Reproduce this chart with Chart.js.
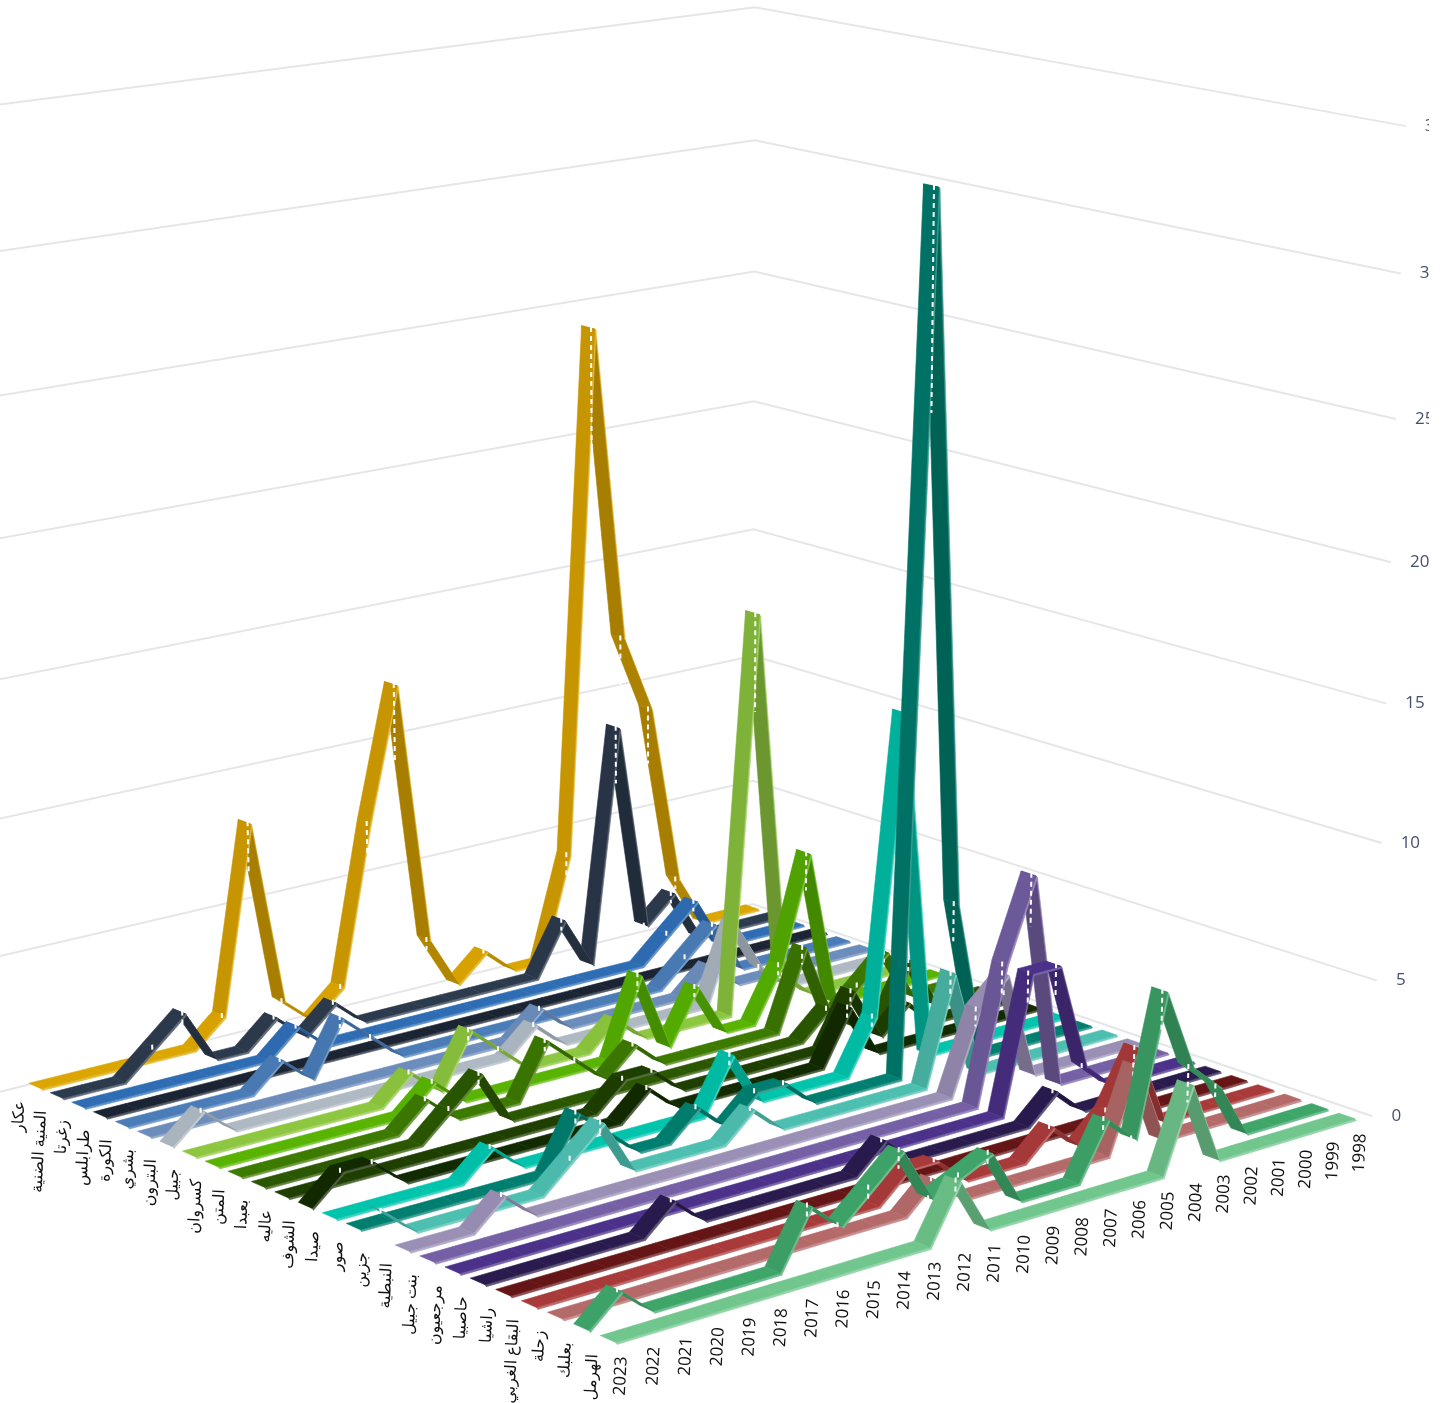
<!DOCTYPE html>
<html>
<head>
<meta charset="utf-8">
<title>chart</title>
<script src="https://cdn.jsdelivr.net/npm/chart.js@4/dist/chart.umd.js"></script>
<style>
  body { margin: 0; background: #fff; }
  canvas { display: block; }
</style>
</head>
<body>
<canvas id="chart" width="1429" height="1403"></canvas>
<script>
// years run from the near end of each ribbon to the far end
const years = [2023,2022,2021,2020,2019,2018,2017,2016,2015,2014,2013,2012,2011,2010,2009,2008,2007,2006,2005,2004,2003,2002,2001,2000,1999,1998];
const categories = ['عكار','المنية الضنية','زغرتا','طرابلس','الكورة','بشري','البترون','جبيل','كسروان','المتن','بعبدا','عاليه','الشوف','صيدا','صور','جزين','النبطية','بنت جبيل','مرجعيون','حاصبيا','راشيا','البقاع الغربي','زحلة','بعلبك','الهرمل'];
const valueTicks = [0,5,10,15,20,25,30,35];

const akkar    = [0,0,0,0,0,0,1,8,1,0,1,7,12,2,0,1,0,0,4,24,12,9,2,0,0,0];
const minieh   = [0,0,0,1,2,0,0,1,0,1,0,0,0,0,0,0,0,2,0,9,1,2,0,0,0,0];
const zgharta  = [0,0,0,0,0,0,0,1,0,0,0,0,0,0,0,0,0,0,0,0,1,2,0,0,0,0];
const tripoli  = [0,0,0,0,0,0,0,0,0,0,0,0,0,0,0,0,0,0,0,0,0,0,0,0,0,0];
const koura    = [0,0,0,0,0,1,0,2,1,0,0,0,0,0,0,0,0,0,0,1,2,0,0,0,0,0];
const bsharri  = [0,0,0,0,0,0,0,0,0,0,0,0,0,1,0,0,0,0,0,1,0,0,0,0,0,0];
const batroun  = [0,1,0,0,0,0,0,0,0,0,0,0,1,0,0,0,0,0,0,3,1,0,0,0,0,0];
const jbeil    = [0,0,0,0,0,0,0,1,0,2,1,0,0,0,1,0,0,0,0,15,1,0,0,0,0,0];
const kesrouan = [0,0,0,0,0,0,0,1,0,0,0,0,0,0,3,0,2,0,0,2,6,0,0,0,0,0];
const metn     = [0,0,0,0,0,0,1,0,0,0,2,1,0,1,0,0,0,0,0,3,0,1,2,0,0,0];
const baabda   = [0,0,0,0,0,0,1,2,0,0,0,0,0,0,0,0,0,0,0,1,0,0,2,0,0,0];
const aley     = [0,0,0,0,0,0,0,0,0,0,0,1,1,0,0,0,0,0,0,2,0,1,0,0,0,0];
const chouf    = [0,1,1,0,0,0,0,0,0,0,0,1,0,0,0,0,0,0,2,0,0,0,0,0,0,0];
const saida    = [0,0,0,0,0,1,0,0,0,0,0,0,0,2,0,0,0,0,2,13,0,0,0,0,0,0];
const tyre     = [0,0,0,0,0,0,0,2,1,0,0,1,0,1,1,0,0,0,0,32,6,0,0,0,0,0];
const jezzine  = [1,0,0,0,0,0,1,2,0,0,0,0,1,0,0,0,0,0,0,4,0,0,0,0,0,0];
const nabatieh = [0,0,0,1,0,0,0,0,0,0,0,0,0,0,0,0,0,0,0,3,4,0,0,0,0,0];
const bintJbeil= [0,0,0,0,0,0,0,0,0,0,0,0,0,0,0,0,0,0,0,5,8,0,0,0,0,0];
const marjayoun= [0,0,0,0,0,0,0,0,0,0,0,0,0,0,0,0,0,0,0,5,5,1,0,0,0,0];
const hasbaya  = [0,0,0,0,0,0,1,0,0,0,0,0,0,1,0,0,0,0,0,1,0,0,0,0,0,0];
const rashaya  = [0,0,0,0,0,0,0,0,0,0,0,0,0,0,0,0,0,0,0,0,0,0,0,0,0,0];
const westBekaa= [0,0,0,0,0,0,0,0,0,0,0,0,1,1,0,0,0,1,0,1,3,0,0,0,0,0];
const zahle    = [0,0,0,0,0,0,0,0,0,0,0,0,1,0,0,0,0,0,0,3,0,0,0,0,0,0];
const baalbek  = [0,1,0,0,0,0,0,2,1,2,3,1,1.5,2,0,0,0,2,1,6,3,2,0,0,0,0];
const hermel   = [0,0,0,0,0,0,0,0,0,0,0,2,0,0,0,0,0,0,0,3,0,0,0,0,0,0];

const seriesValues = [akkar,minieh,zgharta,tripoli,koura,bsharri,batroun,jbeil,kesrouan,metn,baabda,aley,chouf,saida,tyre,jezzine,nabatieh,bintJbeil,marjayoun,hasbaya,rashaya,westBekaa,zahle,baalbek,hermel];
const seriesColors = ['#dca600','#2c3a4d','#2e6db4','#1b2432','#4a7cb8','#6c8dbc','#aeb9c4','#8dc63f','#58b400','#3d7a00','#2b5700','#1e3f00','#122a00','#00c4ac','#007f70','#4dbfb0','#9a8fb5','#7560a5','#4b3189','#291b4e','#651515','#a93a3a','#b56a6a','#3fa66a','#70c68c'];

const W = 1429, H = 1403;
const lastYear = years.length - 1, lastCat = categories.length - 1;

// perspective camera, fitted on the four corners of the ribbon floor
const corner0 = [35,1086], corner1 = [752,907], corner2 = [1347,1116], corner3 = [608,1339];
const dx1 = corner1[0]-corner2[0], dx2 = corner3[0]-corner2[0], sx = corner0[0]-corner1[0]+corner2[0]-corner3[0];
const dy1 = corner1[1]-corner2[1], dy2 = corner3[1]-corner2[1], sy = corner0[1]-corner1[1]+corner2[1]-corner3[1];
const den = dx1*dy2-dx2*dy1;
const g = (sx*dy2-dx2*sy)/den, h = (dx1*sy-sx*dy1)/den;
const a = corner1[0]-corner0[0]+g*corner1[0], b = corner3[0]-corner0[0]+h*corner3[0];
const d = corner1[1]-corner0[1]+g*corner1[1], e = corner3[1]-corner0[1]+h*corner3[1];

function floorPoint(i, k) {
  const s = i/lastYear, t = k/lastCat;
  return {nx: a*s+b*t+corner0[0], ny: d*s+e*t+corner0[1], w: g*s+h*t+1};
}

// walls: back corner and right end of the top gridline
const wallFar = lastYear+0.2, wallLeft = -0.2, wallRight = lastCat+0.8, wallNear = -1;
const topZ = 35;
const back = floorPoint(wallFar, wallLeft), right = floorPoint(wallFar, wallRight);
const backTop = [755,10], rightTop = [1408,122];
const kxb = (backTop[0]*back.w-back.nx)/topZ, kxr = (rightTop[0]*right.w-right.nx)/topZ;
const kyb = (backTop[1]*back.w-back.ny)/topZ, kyr = (rightTop[1]*right.w-right.ny)/topZ;
const cw = (kxb-kxr)/(rightTop[0]-backTop[0]);
const cx = kxb+backTop[0]*cw;
const cy = 0.7*(kyb+backTop[1]*cw)+0.3*(kyr+rightTop[1]*cw);

function project(i, k, z) {
  const p = floorPoint(i, k), w = p.w+cw*z;
  return {x: (p.nx+cx*z)/w, y: (p.ny+cy*z)/w};
}

const halfWidth = 0.29, edgeSide = 0.05, edgeDepth = 0.05;

function shade(hex, f) {
  const n = parseInt(hex.slice(1), 16);
  const mix = c => f <= 1 ? Math.round(c*f) : Math.round(c+(255-c)*(f-1));
  return 'rgb('+mix(n>>16)+','+mix((n>>8)&255)+','+mix(n&255)+')';
}

// one ribbon: five projected points per year, painted far to near as quads
class RibbonController extends Chart.LineController {
  draw() {
    const ctx = this.chart.ctx, pts = this.getMeta().data, ds = this.getDataset();
    const vals = ds.heights, col = ds.baseColor;
    const quad = (p, q, r, s, c) => {
      ctx.fillStyle = c; ctx.strokeStyle = c; ctx.lineWidth = 0.6;
      ctx.beginPath(); ctx.moveTo(p.x,p.y); ctx.lineTo(q.x,q.y); ctx.lineTo(r.x,r.y); ctx.lineTo(s.x,s.y);
      ctx.closePath(); ctx.fill(); ctx.stroke();
    };
    ctx.save();
    for (let i = vals.length-2; i >= 0; i--) {
      const at = i*5, nx = at+5, dz = vals[i+1]-vals[i];
      let f = 1;
      if (dz > 0) f = 1-0.1*Math.min(1, dz/4);
      if (dz < 0) f = 0.86-0.1*Math.min(1, -dz/4);
      quad(pts[at+1], pts[nx+1], pts[nx+2], pts[at+2], shade(col, 1.25));
      quad(pts[at], pts[nx], pts[nx+1], pts[at+1], shade(col, f));
    }
    ctx.strokeStyle = '#fff'; ctx.lineWidth = 2; ctx.setLineDash([5,4]);
    vals.forEach((v, i) => {
      if (v <= 0) return;
      const p = pts[i*5+3], q = pts[i*5+4];
      ctx.beginPath(); ctx.moveTo(p.x,p.y); ctx.lineTo(q.x,q.y); ctx.stroke();
    });
    ctx.restore();
  }
}
RibbonController.id = 'ribbon';
RibbonController.defaults = Chart.LineController.defaults;
Chart.register(RibbonController);

const ribbonSets = seriesValues.map((vals, k) => {
  const data = [];
  vals.forEach((v, i) => {
    data.push(project(i, k-halfWidth, v));
    data.push(project(i, k+halfWidth, v));
    data.push(project(i, k+halfWidth+edgeSide, v-edgeDepth));
    data.push(project(i+0.1, k, v));
    data.push(project(i+0.1, k, v*0.75));
  });
  return {type: 'ribbon', label: categories[k], data, heights: vals, baseColor: seriesColors[k], order: 100-k, pointRadius: 0};
});

const gridEnd = z => project(wallFar+0.3, wallRight-0.36, z);

const gridSets = valueTicks.map(z => ({
  type: 'scatter', label: 'grid '+z, showLine: true, order: 200, pointRadius: 0,
  borderColor: '#e4e6ea', borderWidth: 2,
  data: [project(wallNear, wallLeft, z), project(wallFar, wallLeft, z), gridEnd(z)]
}));

const axisText = {
  id: 'axisText',
  afterDatasetsDraw(chart) {
    const {ctx, scales} = chart;
    const put = (p, dx, dy) => [scales.x.getPixelForValue(p.x)+dx, scales.y.getPixelForValue(p.y)+dy];
    const vertical = (text, x, y, align) => {
      ctx.save(); ctx.translate(x, y); ctx.rotate(-87*Math.PI/180);
      ctx.textAlign = align; ctx.textBaseline = 'middle'; ctx.fillText(text, 0, 0); ctx.restore();
    };
    ctx.save();
    ctx.fillStyle = '#111';
    ctx.font = '17px "Open Sans", "DejaVu Sans"';
    years.forEach((y, i) => { const [x, yy] = put(project(i, lastCat, 0), 13, 37); vertical(String(y), x, yy, 'center'); });
    ctx.font = '16px "Noto Sans", "DejaVu Sans"';
    categories.forEach((c, k) => { const [x, yy] = put(project(0, k, 0), -15, 15); vertical(c, x, yy, 'right'); });
    ctx.fillStyle = '#44506b';
    ctx.font = '17px "Open Sans", "DejaVu Sans"';
    ctx.textAlign = 'left'; ctx.textBaseline = 'middle';
    valueTicks.forEach(z => { const [x, yy] = put(gridEnd(z), 19, 0); ctx.fillText(String(z), x, yy); });
    ctx.restore();
  }
};

new Chart(document.getElementById('chart'), {
  type: 'scatter',
  data: {datasets: [...gridSets, ...ribbonSets]},
  plugins: [axisText],
  options: {
    responsive: false,
    animation: false,
    devicePixelRatio: 1,
    layout: {padding: 0},
    plugins: {legend: {display: false}, tooltip: {enabled: false}},
    scales: {
      x: {type: 'linear', min: 0, max: W, display: false},
      y: {type: 'linear', min: 0, max: H, reverse: true, display: false}
    }
  }
});
</script>
</body>
</html>
